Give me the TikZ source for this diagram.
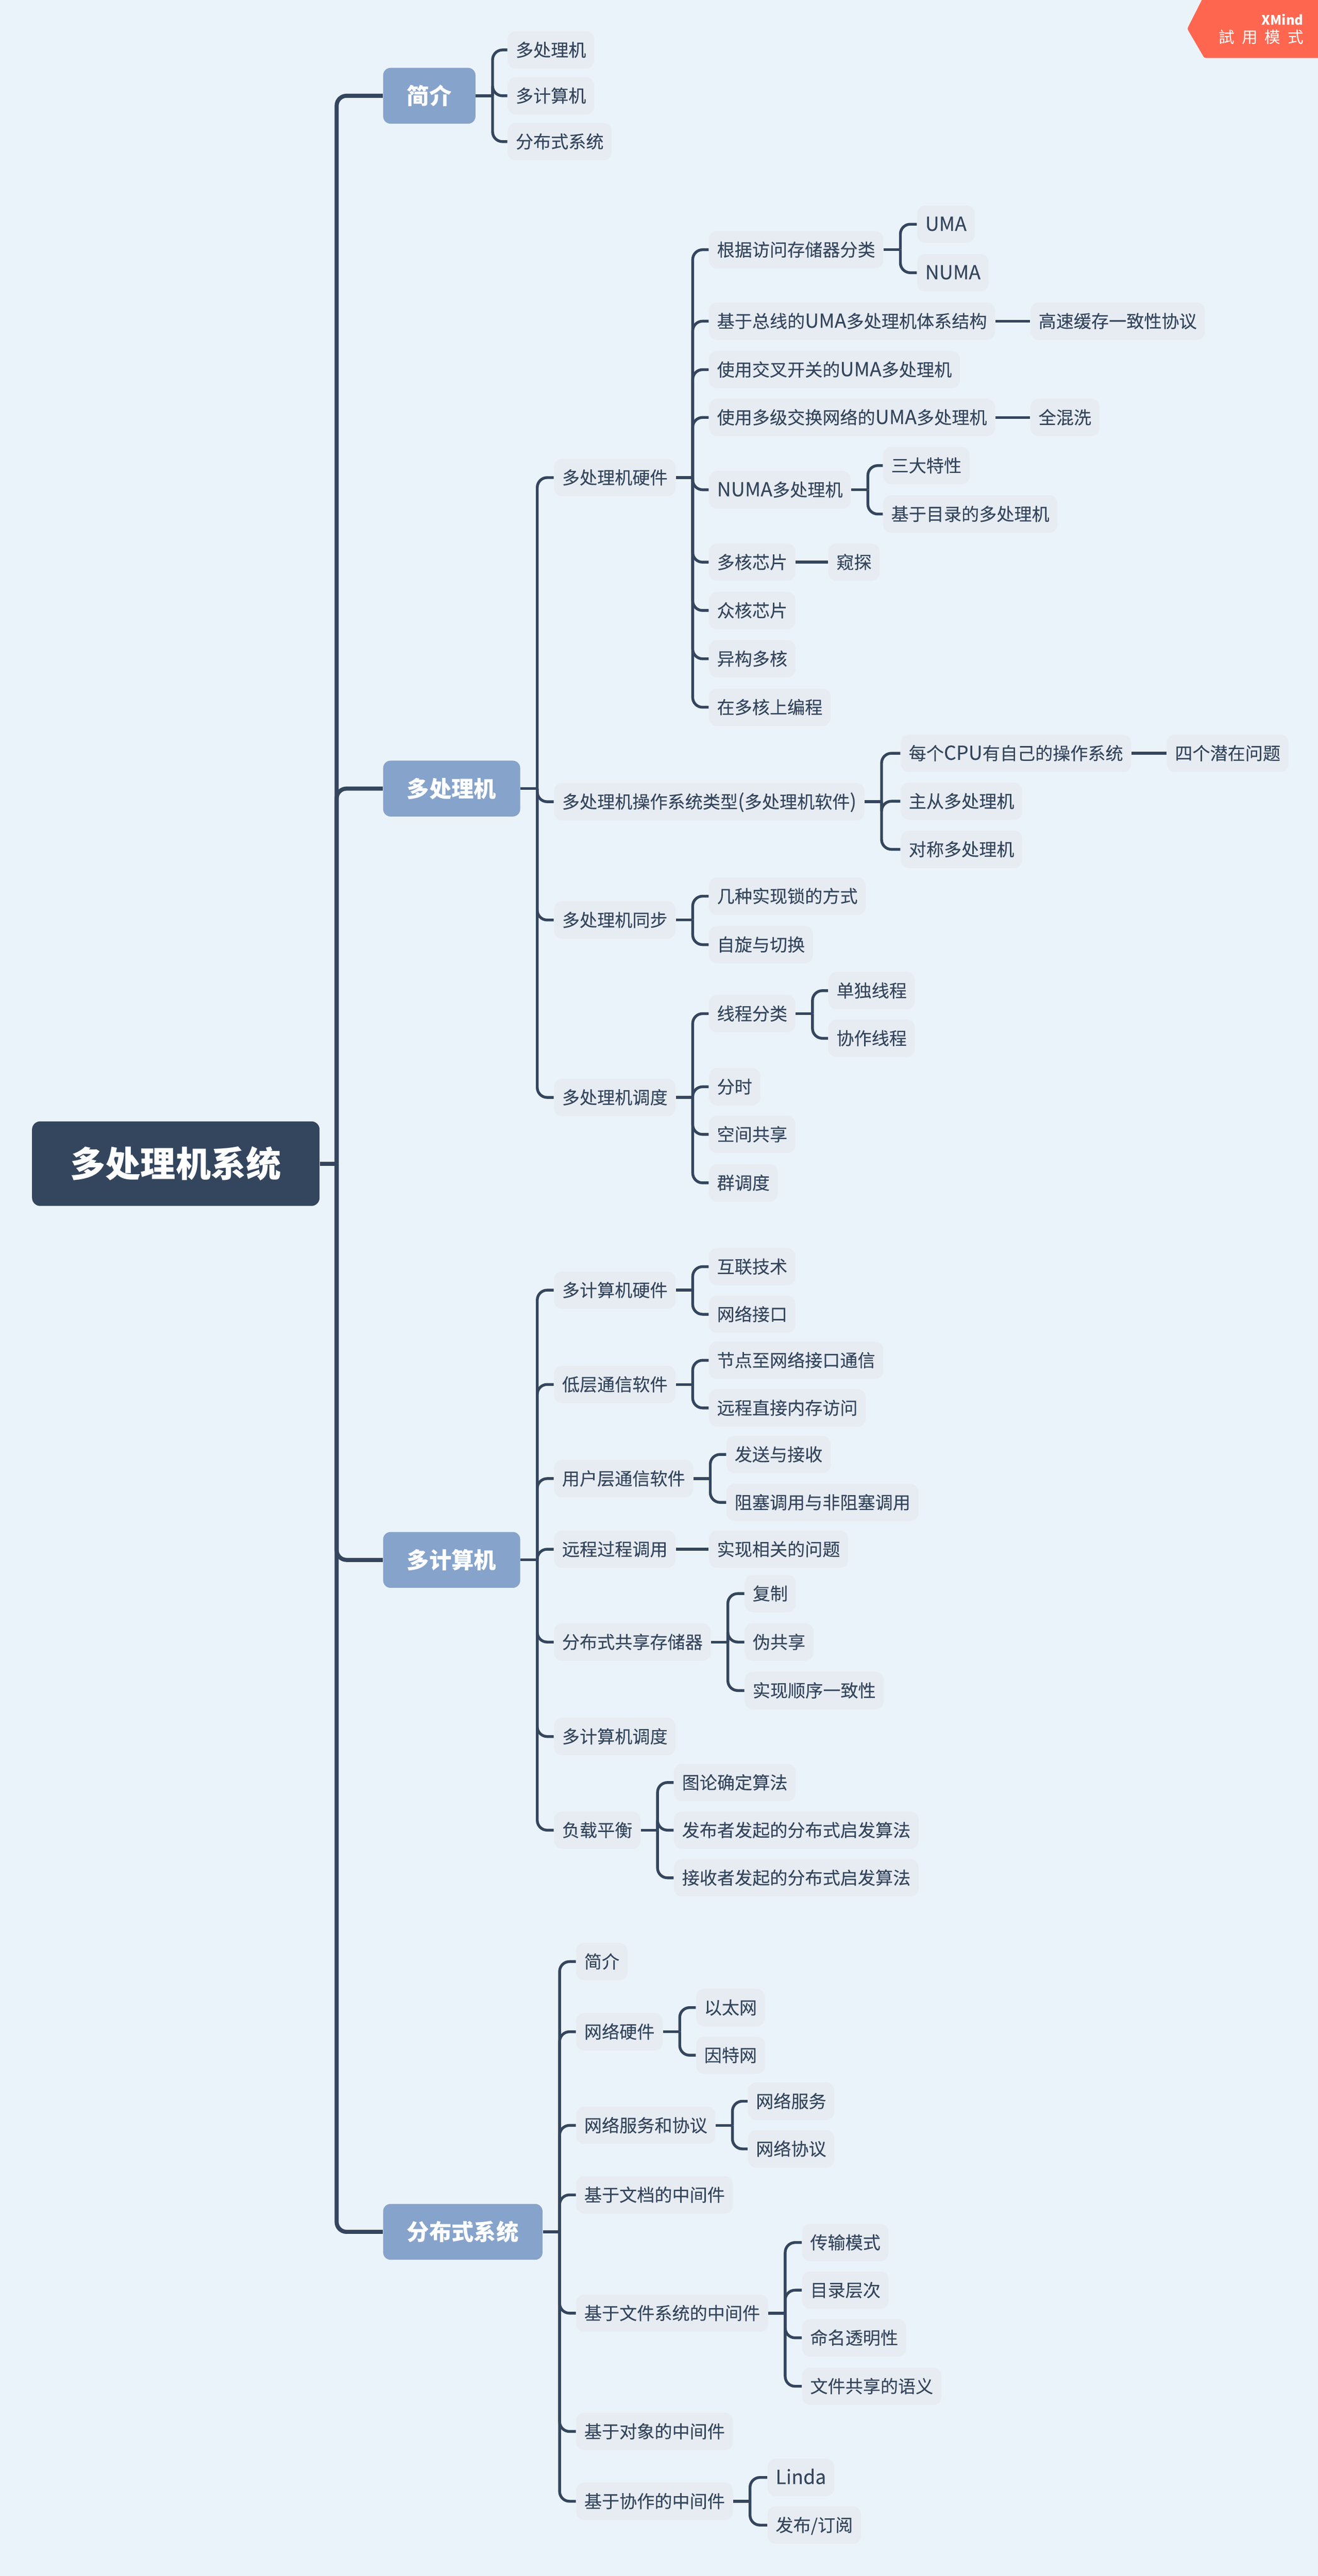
\documentclass[tikz,border=0pt]{standalone}
\usepackage{fontspec}
\setmainfont{Noto Sans CJK SC}
\newfontfamily\topicFont[FakeBold=0.15]{Noto Sans CJK SC}
\newfontfamily\latinFont[FakeBold=0.15,Scale=1.1]{Noto Sans CJK SC}
\newfontfamily\wideFont[LetterSpace=45]{Noto Sans CJK SC}
\definecolor{paperBg}{HTML}{EBF3FA}
\definecolor{inkDark}{HTML}{34465E}
\definecolor{mainFill}{HTML}{86A3CB}
\definecolor{subFill}{HTML}{E7ECF2}
\definecolor{trialFill}{HTML}{FF6650}
\tikzset{
    rootTopic/.style={fill=inkDark, text=white, rounded corners=5pt, anchor=west,
        minimum width=175pt, minimum height=51.5pt, inner sep=0pt,
        font=\fontsize{21.4}{24}\selectfont\bfseries},
    mainTopic/.style={fill=mainFill, text=white, rounded corners=4.5pt, anchor=west,
        minimum height=34pt, inner xsep=14.5pt, inner ysep=0pt,
        font=\fontsize{13.6}{16}\selectfont\bfseries},
    subTopic/.style={fill=subFill, text=inkDark, rounded corners=5pt, anchor=west,
        minimum height=22.8pt, inner xsep=4.9pt, inner ysep=0pt,
        text height=9.3pt, text depth=1.3pt,
        font=\fontsize{10.7}{12}\selectfont\topicFont},
    rootLink/.style={draw=inkDark, line width=2.5pt, rounded corners=6pt},
    subLink/.style={draw=inkDark, line width=1.7pt, rounded corners=6pt},
}
\begin{document}
\begin{tikzpicture}[x=1pt, y=-1pt]
        \useasboundingbox (0,0) rectangle (802.1,1568);
        \fill[paperBg] (0,0) rectangle (802.1,1568);

        % trial mark
        \fill[trialFill, rounded corners=1pt] (733,-3) -- (722.6,17.5) -- (733,35.3) -- (805,35.3) -- (805,-3) -- cycle;
        \node[anchor=east, text=white, inner sep=0pt, font=\fontsize{8}{9}\selectfont\bfseries] (xmindMark) at (793.5,11.8) {XMind};
        \node[anchor=east, text=white, inner sep=0pt, font=\fontsize{9.6}{11}\wideFont] (trialMark) at (793.5,22.5) {試用模式};

        \node[rootTopic] (root) at (19.3,708.3) {多处理机系统};

        \node[mainTopic] (intro) at (233,58.3) {简介};
        \node[mainTopic] (multiP) at (233,480) {多处理机};
        \node[mainTopic] (multiC) at (233,949.5) {多计算机};
        \node[mainTopic] (distSys) at (233,1358.5) {分布式系统};

        % intro
        \node[subTopic] (introA) at (308.8,30.4) {多处理机};
        \node[subTopic] (introB) at (308.8,58.3) {多计算机};
        \node[subTopic] (introC) at (308.8,86.2) {分布式系统};

        % multiprocessor
        \node[subTopic] (pHw) at (337,290.7) {多处理机硬件};
        \node[subTopic] (pOs) at (337,488) {多处理机操作系统类型{\latinFont(}多处理机软件{\latinFont)}};
        \node[subTopic] (pSync) at (337,560) {多处理机同步};
        \node[subTopic] (pSched) at (337,668) {多处理机调度};

        \node[subTopic] (hwAccess) at (431.3,152) {根据访问存储器分类};
        \node[subTopic] (hwBus) at (431.3,195.5) {基于总线的{\latinFont UMA}多处理机体系结构};
        \node[subTopic] (hwCross) at (431.3,225) {使用交叉开关的{\latinFont UMA}多处理机};
        \node[subTopic] (hwStage) at (431.3,254.1) {使用多级交换网络的{\latinFont UMA}多处理机};
        \node[subTopic] (hwNuma) at (431.3,298.1) {{\latinFont NUMA}多处理机};
        \node[subTopic] (hwCore) at (431.3,342.2) {多核芯片};
        \node[subTopic] (hwMany) at (431.3,371.6) {众核芯片};
        \node[subTopic] (hwHetero) at (431.3,401) {异构多核};
        \node[subTopic] (hwProg) at (431.3,430.5) {在多核上编程};

        \node[subTopic] (accUma) at (558,136.5) {{\latinFont UMA}};
        \node[subTopic] (accNuma) at (558,166) {{\latinFont NUMA}};
        \node[subTopic] (busCache) at (627,195.5) {高速缓存一致性协议};
        \node[subTopic] (stageMix) at (627,254.1) {全混洗};
        \node[subTopic] (numaThree) at (537.3,283.4) {三大特性};
        \node[subTopic] (numaDir) at (537.3,312.9) {基于目录的多处理机};
        \node[subTopic] (coreSnoop) at (504,342.2) {窥探};

        \node[subTopic] (osOwn) at (548,458.5) {每个{\latinFont CPU}有自己的操作系统};
        \node[subTopic] (osFour) at (710,458.5) {四个潜在问题};
        \node[subTopic] (osMaster) at (548,487.7) {主从多处理机};
        \node[subTopic] (osSym) at (548,517) {对称多处理机};

        \node[subTopic] (syncLock) at (431.3,545.5) {几种实现锁的方式};
        \node[subTopic] (syncSpin) at (431.3,575) {自旋与切换};

        \node[subTopic] (schedKind) at (431.3,617) {线程分类};
        \node[subTopic] (schedTime) at (431.3,661.5) {分时};
        \node[subTopic] (schedSpace) at (431.3,690.5) {空间共享};
        \node[subTopic] (schedGang) at (431.3,720) {群调度};
        \node[subTopic] (kindAlone) at (504,603) {单独线程};
        \node[subTopic] (kindTeam) at (504,632) {协作线程};

        % multicomputer
        \node[subTopic] (cHw) at (337,785.3) {多计算机硬件};
        \node[subTopic] (cLow) at (337,842.7) {低层通信软件};
        \node[subTopic] (cUser) at (337,900) {用户层通信软件};
        \node[subTopic] (cRpc) at (337,943) {远程过程调用};
        \node[subTopic] (cDsm) at (337,999.5) {分布式共享存储器};
        \node[subTopic] (cSched) at (337,1057) {多计算机调度};
        \node[subTopic] (cLoad) at (337,1114) {负载平衡};

        \node[subTopic] (hwLink) at (431.3,771) {互联技术};
        \node[subTopic] (hwNic) at (431.3,800) {网络接口};
        \node[subTopic] (lowNode) at (431.3,828) {节点至网络接口通信};
        \node[subTopic] (lowRdma) at (431.3,857) {远程直接内存访问};
        \node[subTopic] (userSend) at (442,885.3) {发送与接收};
        \node[subTopic] (userBlock) at (442,914.5) {阻塞调用与非阻塞调用};
        \node[subTopic] (rpcIssue) at (431.3,943) {实现相关的问题};
        \node[subTopic] (dsmCopy) at (453,970) {复制};
        \node[subTopic] (dsmFalse) at (453,999.5) {伪共享};
        \node[subTopic] (dsmOrder) at (453,1029) {实现顺序一致性};
        \node[subTopic] (loadGraph) at (410,1085) {图论确定算法};
        \node[subTopic] (loadSend) at (410,1114) {发布者发起的分布式启发算法};
        \node[subTopic] (loadRecv) at (410,1143) {接收者发起的分布式启发算法};

        % distributed systems
        \node[subTopic] (dIntro) at (350.5,1194) {简介};
        \node[subTopic] (dNet) at (350.5,1236.7) {网络硬件};
        \node[subTopic] (dProto) at (350.5,1293.7) {网络服务和协议};
        \node[subTopic] (dDoc) at (350.5,1336) {基于文档的中间件};
        \node[subTopic] (dFile) at (350.5,1408) {基于文件系统的中间件};
        \node[subTopic] (dObj) at (350.5,1480) {基于对象的中间件};
        \node[subTopic] (dCoord) at (350.5,1522.5) {基于协作的中间件};

        \node[subTopic] (netEther) at (423.5,1222) {以太网};
        \node[subTopic] (netInter) at (423.5,1251) {因特网};
        \node[subTopic] (protoServ) at (455,1279) {网络服务};
        \node[subTopic] (protoProt) at (455,1308) {网络协议};
        \node[subTopic] (fileTrans) at (488,1365) {传输模式};
        \node[subTopic] (fileDir) at (488,1394) {目录层次};
        \node[subTopic] (fileName) at (488,1423) {命名透明性};
        \node[subTopic] (fileShare) at (488,1452.5) {文件共享的语义};
        \node[subTopic] (coordLinda) at (467,1508) {{\latinFont Linda}};
        \node[subTopic] (coordPub) at (467,1537) {发布/订阅};

        % connectors
        \draw[rootLink] (root.east) -- ++(10.2,0);
        \foreach \kid in {intro,multiP,multiC,distSys}
            \draw[rootLink] ([xshift=10.2pt]root.east) |- (\kid.west);

        \foreach \from/\kids in {
            intro/{introA,introB,introC},
            multiP/{pHw,pOs,pSync,pSched},
            multiC/{cHw,cLow,cUser,cRpc,cDsm,cSched,cLoad},
            distSys/{dIntro,dNet,dProto,dDoc,dFile,dObj,dCoord},
            pHw/{hwAccess,hwBus,hwCross,hwStage,hwNuma,hwCore,hwMany,hwHetero,hwProg},
            hwAccess/{accUma,accNuma},
            hwNuma/{numaThree,numaDir},
            pOs/{osOwn,osMaster,osSym},
            pSync/{syncLock,syncSpin},
            pSched/{schedKind,schedTime,schedSpace,schedGang},
            schedKind/{kindAlone,kindTeam},
            cHw/{hwLink,hwNic},
            cLow/{lowNode,lowRdma},
            cUser/{userSend,userBlock},
            cDsm/{dsmCopy,dsmFalse,dsmOrder},
            cLoad/{loadGraph,loadSend,loadRecv},
            dNet/{netEther,netInter},
            dProto/{protoServ,protoProt},
            dFile/{fileTrans,fileDir,fileName,fileShare},
            dCoord/{coordLinda,coordPub}}{
            \draw[subLink] (\from.east) -- ++(10.2,0);
            \foreach \kid in \kids
                \draw[subLink] ([xshift=10.2pt]\from.east) |- (\kid.west);
        }

        \foreach \from/\kid in {hwBus/busCache, hwStage/stageMix, hwCore/coreSnoop, osOwn/osFour, cRpc/rpcIssue}
            \draw[subLink] (\from.east) -- (\kid.west);
    \end{tikzpicture}
\end{document}
